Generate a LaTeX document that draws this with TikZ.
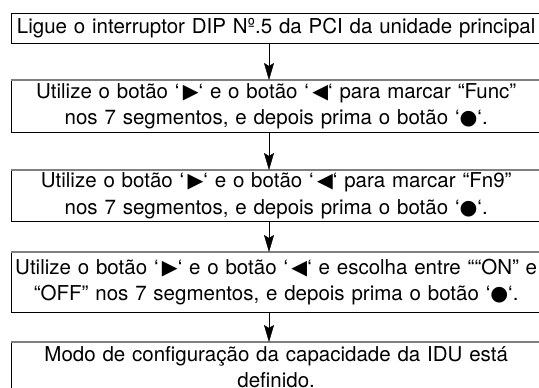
\documentclass[tikz,border=0pt]{standalone}
\usepackage{fontspec}
\setmainfont{TeX Gyre Heros}
\newfontfamily\symfont[Scale=1.0]{DejaVu Sans}
\usetikzlibrary{arrows.meta}

\newcommand{\btnright}{\,{\symfont ▶}}
\newcommand{\btnleft}{\,{\symfont ◀}}
\newcommand{\btnset}{{\symfont ●}}

\begin{document}
\begin{tikzpicture}[x=1pt, y=-1pt, thin,
  stepbox/.style={anchor=north west, inner sep=0pt, text width=530pt,
    align=center, font=\fontsize{20.5}{26.5}\selectfont},
  frame/.style={draw},
  topline/.style={draw=gray, line width=1.1pt},
  flow/.style={-{Stealth[length=17pt, width=10pt, inset=3pt]}}]
  \useasboundingbox (0,0) rectangle (539,388);
  % caixas do fluxograma
  \node[stepbox, minimum height=30pt] (b1) at (11,13)
    {\makebox[\linewidth]{Ligue o interruptor DIP Nº.5 da PCI da unidade principal}};
  \node[stepbox, minimum height=52pt] (b2) at (11,80)
    {Utilize o botão ‘\btnright‘ e o botão ‘\btnleft‘ para marcar “Func”\\
     nos 7 segmentos, e depois prima o botão ‘\btnset‘.};
  \node[stepbox, minimum height=51pt] (b3) at (11,170)
    {Utilize o botão ‘\btnright‘ e o botão ‘\btnleft‘ para marcar “Fn9”\\
     nos 7 segmentos, e depois prima o botão ‘\btnset‘.};
  \node[stepbox, minimum height=60pt] (b4) at (11,252)
    {Utilize o botão ‘\btnright‘ e o botão ‘\btnleft‘ e escolha entre ““ON” e\\
     “OFF” nos 7 segmentos, e depois prima o botão ‘\btnset‘.};
  \node[stepbox, minimum height=50pt] (b5) at (11,342)
    {Modo de configuração da capacidade da IDU está\\ definido.};
  % as caixas continuam para lá da margem direita
  \draw[frame] (b1.north west) rectangle ([xshift=20pt]b1.south east);
  \foreach \b in {b2,b3,b4,b5} {
    \draw[frame] (\b.north west) rectangle ([xshift=20pt]\b.south east);
    \draw[topline] (\b.north west) -- ([xshift=20pt]\b.north east);
  }
  % setas
  \coordinate (ax) at (269,0);
  \draw[flow] (b1.south -| ax) -- (b2.north -| ax);
  \draw[flow] (b2.south -| ax) -- (b3.north -| ax);
  \draw[flow] (b3.south -| ax) -- (b4.north -| ax);
  \draw[flow] (b4.south -| ax) -- (b5.north -| ax);
\end{tikzpicture}
\end{document}
